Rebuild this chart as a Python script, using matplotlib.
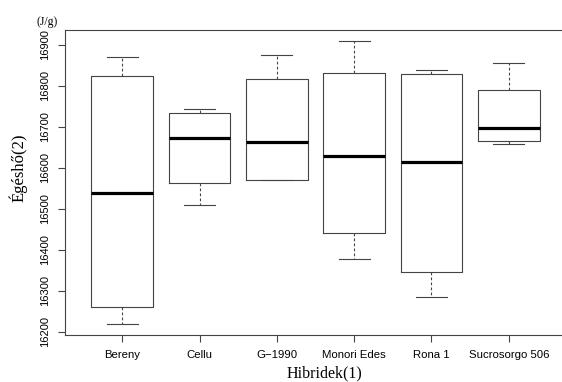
import matplotlib

matplotlib.use("Agg")
import matplotlib.pyplot as plt

# values (J/g)
groups = ["Bereny", "Cellu", "G\u22121990", "Monori Edes", "Rona 1", "Sucrosorgo 506"]
whislo = [16220, 16508, 16569, 16377, 16284, 16657]
q1 = [16260, 16564, 16569, 16442, 16347, 16665]
med = [16538, 16673, 16663, 16629, 16614, 16697]
q3 = [16823, 16733, 16817, 16830, 16828, 16789]
whishi = [16869, 16744, 16874, 16908, 16838, 16856]
yticks = [16200, 16300, 16400, 16500, 16600, 16700, 16800, 16900]

LINE = "#444444"
SANS = "Liberation Sans"
SERIF = "Liberation Serif"

stats = [
    {"label": g, "whislo": lo, "q1": a, "med": m, "q3": b, "whishi": hi, "fliers": []}
    for g, lo, a, m, b, hi in zip(groups, whislo, q1, med, q3, whishi)
]

fig = plt.figure(figsize=(5.62, 3.82), dpi=100)
ax = fig.add_axes([65 / 562, 47 / 382, 501 / 562, 305 / 382])

ax.bxp(
    stats,
    widths=0.8,
    capwidths=0.4,
    boxprops=dict(color=LINE, linewidth=0.8),
    whiskerprops=dict(color=LINE, linewidth=0.8, linestyle=(0, (2.5, 2))),
    capprops=dict(color=LINE, linewidth=0.8),
    medianprops=dict(color="black", linewidth=2.3, solid_capstyle="butt"),
)

ax.set_xlim(0.26, 6.74)
ax.set_ylim(16192.5, 16935.5)
ax.set_yticks(yticks)
ax.set_yticklabels([str(v) for v in yticks], rotation=90, va="center",
                   family=SANS, fontsize=8)
ax.set_xticks(range(1, len(groups) + 1))
ax.set_xticklabels(groups, family=SANS, fontsize=8.2)
ax.tick_params(axis="both", length=5, width=0.8, color=LINE, pad=6)

for sp in ax.spines.values():
    sp.set_color(LINE)
    sp.set_linewidth(0.8)

# axis titles placed as figure text, like the R plot
fig.text(324 / 562, 1 - 373 / 382, "Hibridek(1)", family=SERIF, fontsize=11.5,
         ha="center", va="center")
fig.text(18 / 562, 1 - 168 / 382, "Égéshő(2)", family=SERIF, fontsize=12,
         rotation=90, ha="center", va="center")
fig.text(47 / 562, 1 - 22 / 382, "(J/g)", family=SERIF, fontsize=8.5,
         ha="center", va="center")

fig.savefig("out.png", dpi=100)
